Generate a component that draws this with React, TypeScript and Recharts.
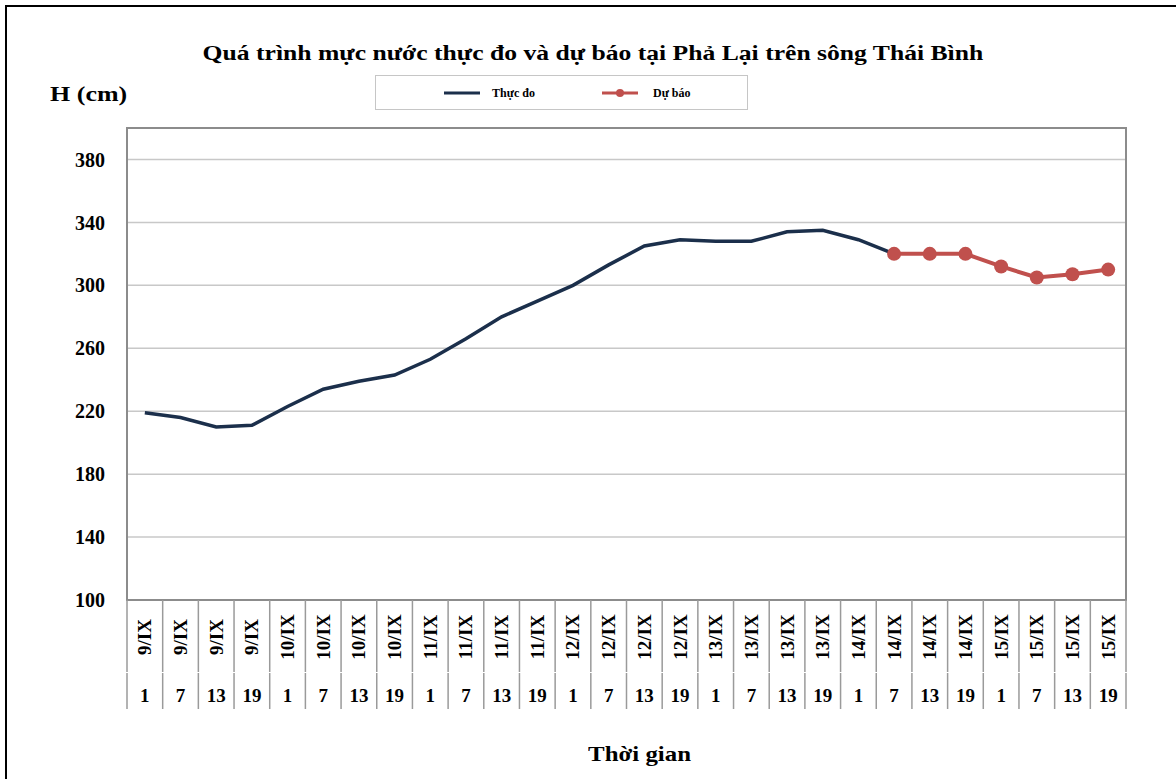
import { CartesianGrid, Line, LineChart, ReferenceArea, XAxis, YAxis } from 'recharts';

const days = ['9/IX', '9/IX', '9/IX', '9/IX', '10/IX', '10/IX', '10/IX', '10/IX', '11/IX', '11/IX', '11/IX', '11/IX', '12/IX', '12/IX', '12/IX', '12/IX', '13/IX', '13/IX', '13/IX', '13/IX', '14/IX', '14/IX', '14/IX', '14/IX', '15/IX', '15/IX', '15/IX', '15/IX'];
const hours = ['1', '7', '13', '19', '1', '7', '13', '19', '1', '7', '13', '19', '1', '7', '13', '19', '1', '7', '13', '19', '1', '7', '13', '19', '1', '7', '13', '19'];

// thuc do (observed) and du bao (forecast), cm
const observed = [219, 216, 210, 211, 223, 234, 239, 243, 253, 266, 280, 290, 300, 313, 325, 329, 328, 328, 334, 335, 329, 320, null, null, null, null, null, null];
const forecast = [null, null, null, null, null, null, null, null, null, null, null, null, null, null, null, null, null, null, null, null, null, 320, 320, 320, 312, 305, 307, 310];

const yTicks = [100, 140, 180, 220, 260, 300, 340, 380];

const data = days.map((day, i) => ({
    key: `${day} ${hours[i]}`,
    day,
    hour: hours[i],
    observed: observed[i],
    forecast: forecast[i],
}));

const FONT = '"Liberation Serif", "Times New Roman", serif';
const PLOT_WIDTH = 999;
const BAND = PLOT_WIDTH / data.length;

function CategoryTick(props: any) {
    const { x, y, index } = props;
    const item = data[index];
    if (!item) return null;
    const left = x - BAND / 2;
    const right = x + BAND / 2;
    return (
        <g>
            <line x1={left} y1={y} x2={left} y2={y + 72} stroke="#9a9a9a" strokeWidth={1.5} />
            <line x1={left} y1={y + 73} x2={left} y2={y + 109} stroke="#9a9a9a" strokeWidth={1.5} />
            {index === data.length - 1 && (
                <>
                    <line x1={right} y1={y} x2={right} y2={y + 72} stroke="#9a9a9a" strokeWidth={1.5} />
                    <line x1={right} y1={y + 73} x2={right} y2={y + 109} stroke="#9a9a9a" strokeWidth={1.5} />
                </>
            )}
            <text
                x={x}
                y={y + 37}
                transform={`rotate(-90, ${x}, ${y + 37})`}
                textAnchor="middle"
                dominantBaseline="central"
                fontFamily={FONT}
                fontWeight="bold"
                fontSize={19}
                fill="#000"
            >
                {item.day}
            </text>
            <text x={x} y={y + 102} textAnchor="middle" fontFamily={FONT} fontWeight="bold" fontSize={19} fill="#000">
                {item.hour}
            </text>
        </g>
    );
}

function Stretched({ children, scale }: { children: string; scale: number }) {
    return <span style={{ display: 'inline-block', transform: `scaleX(${scale})` }}>{children}</span>;
}

function LegendBox() {
    return (
        <div
            style={{
                position: 'absolute',
                left: 375,
                top: 75,
                width: 373,
                height: 35,
                border: '1px solid #c6c6c6',
                boxSizing: 'border-box',
            }}
        >
            <svg width={373} height={35} style={{ position: 'absolute', left: 0, top: 0 }}>
                <line x1={68} y1={17} x2={104} y2={17} stroke="#1b2f4b" strokeWidth={3} />
                <text x={116} y={21} fontFamily={FONT} fontWeight="bold" fontSize={12} fill="#000">
                    Thực đo
                </text>
                <line x1={226} y1={17} x2={262} y2={17} stroke="#c0504d" strokeWidth={3} />
                <circle cx={244} cy={17} r={4} fill="#c0504d" />
                <text x={277} y={21} fontFamily={FONT} fontWeight="bold" fontSize={12} fill="#000">
                    Dự báo
                </text>
            </svg>
        </div>
    );
}

export default function App() {
    return (
        <div style={{ position: 'absolute', left: 0, top: 0, width: 1176, height: 779, overflow: 'hidden', background: '#fff' }}>
            <div style={{ position: 'absolute', left: 5, top: 5, width: 1220, height: 820, border: '2px solid #000' }} />
            <div style={{ position: 'absolute', left: 0, top: 0 }}>
                <LineChart width={1176} height={779} data={data} margin={{ top: 128, right: 50, bottom: 0, left: 0 }}>
                    <CartesianGrid stroke="#c8c8c8" strokeWidth={1.5} vertical={false} />
                    <ReferenceArea y1={100} y2={400} fill="none" stroke="#8c8c8c" strokeWidth={2} ifOverflow="visible" />
                    <XAxis
                        dataKey="key"
                        scale="band"
                        interval={0}
                        height={179}
                        tickLine={false}
                        axisLine={false}
                        tickSize={0}
                        tickMargin={0}
                        tick={<CategoryTick />}
                    />
                    <YAxis
                        domain={[100, 400]}
                        ticks={yTicks}
                        width={127}
                        tickLine={false}
                        axisLine={false}
                        tickSize={0}
                        tickMargin={22}
                        tick={{ fontFamily: FONT, fontWeight: 'bold', fontSize: 20, fill: '#000' }}
                    />
                    <Line
                        dataKey="observed"
                        type="linear"
                        stroke="#1b2f4b"
                        strokeWidth={3.5}
                        dot={false}
                        activeDot={false}
                        isAnimationActive={false}
                    />
                    <Line
                        dataKey="forecast"
                        type="linear"
                        stroke="#c0504d"
                        strokeWidth={4}
                        dot={{ r: 7, fill: '#c0504d', stroke: '#c0504d', strokeWidth: 0 }}
                        activeDot={false}
                        isAnimationActive={false}
                    />
                </LineChart>
            </div>
            <div
                style={{
                    position: 'absolute',
                    left: 0,
                    width: 1186,
                    top: 41,
                    textAlign: 'center',
                    fontFamily: FONT,
                    fontWeight: 'bold',
                    fontSize: 21,
                }}
            >
                <Stretched scale={1.22}>Quá trình mực nước thực đo và dự báo tại Phả Lại trên sông Thái Bình</Stretched>
            </div>
            <div style={{ position: 'absolute', left: 50, top: 81, width: 78, textAlign: 'center', fontFamily: FONT, fontWeight: 'bold', fontSize: 22 }}>
                <Stretched scale={1.18}>H (cm)</Stretched>
            </div>
            <LegendBox />
            <div
                style={{
                    position: 'absolute',
                    left: 0,
                    width: 1280,
                    top: 741,
                    textAlign: 'center',
                    fontFamily: FONT,
                    fontWeight: 'bold',
                    fontSize: 22,
                }}
            >
                <Stretched scale={1.13}>Thời gian</Stretched>
            </div>
        </div>
    );
}
